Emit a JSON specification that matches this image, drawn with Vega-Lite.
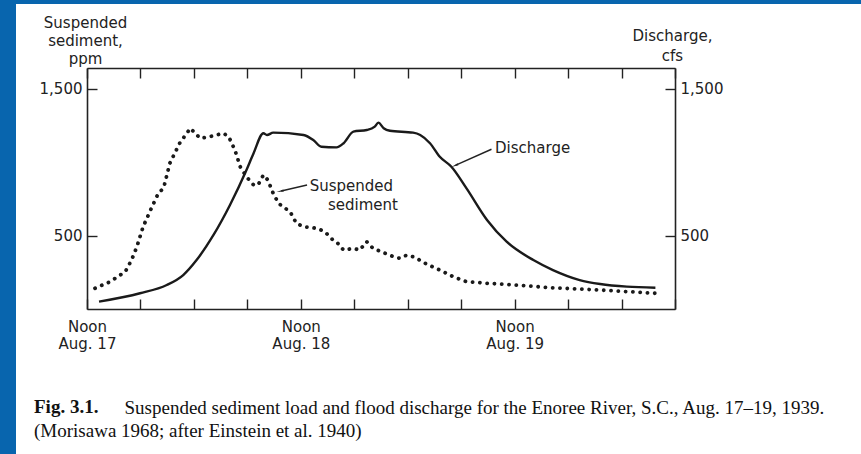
{
  "$schema": "https://vega.github.io/schema/vega-lite/v6.json",
  "background": "white",
  "padding": 0,
  "columns": 3,
  "bounds": "flush",
  "spacing": 0,
  "config": {"view": {"stroke": null}, "axis": {"grid": false}},
  "datasets": {
    "sediment": [
      {"hour": 0.9, "ppm": 141}, {"hour": 2.6, "ppm": 186}, {"hour": 4.3, "ppm": 254}, {"hour": 5.0, "ppm": 333},
      {"hour": 5.6, "ppm": 424}, {"hour": 6.3, "ppm": 560}, {"hour": 7.3, "ppm": 696}, {"hour": 8.0, "ppm": 787},
      {"hour": 8.6, "ppm": 823}, {"hour": 9.3, "ppm": 992}, {"hour": 10.4, "ppm": 1128}, {"hour": 11.6, "ppm": 1230},
      {"hour": 12.7, "ppm": 1162}, {"hour": 13.8, "ppm": 1173}, {"hour": 15.3, "ppm": 1196}, {"hour": 15.9, "ppm": 1173},
      {"hour": 16.6, "ppm": 1082}, {"hour": 17.2, "ppm": 968}, {"hour": 17.9, "ppm": 900}, {"hour": 18.7, "ppm": 844},
      {"hour": 19.2, "ppm": 844}, {"hour": 19.8, "ppm": 912}, {"hour": 20.3, "ppm": 878}, {"hour": 20.9, "ppm": 787},
      {"hour": 21.5, "ppm": 719}, {"hour": 22.0, "ppm": 696}, {"hour": 22.8, "ppm": 662}, {"hour": 23.5, "ppm": 583},
      {"hour": 24.3, "ppm": 560}, {"hour": 25.8, "ppm": 549}, {"hour": 26.7, "ppm": 526}, {"hour": 27.6, "ppm": 470},
      {"hour": 28.0, "ppm": 458}, {"hour": 28.8, "ppm": 401}, {"hour": 29.9, "ppm": 413}, {"hour": 30.6, "ppm": 401},
      {"hour": 31.4, "ppm": 458}, {"hour": 32.1, "ppm": 413}, {"hour": 33.3, "ppm": 383}, {"hour": 34.4, "ppm": 356},
      {"hour": 35.1, "ppm": 345}, {"hour": 35.9, "ppm": 367}, {"hour": 36.8, "ppm": 352}, {"hour": 38.1, "ppm": 306},
      {"hour": 39.6, "ppm": 265}, {"hour": 41.1, "ppm": 220}, {"hour": 42.6, "ppm": 186}, {"hour": 44.9, "ppm": 175},
      {"hour": 48.2, "ppm": 163}, {"hour": 52.0, "ppm": 145}, {"hour": 57.6, "ppm": 129}, {"hour": 63.8, "ppm": 107}
    ],
    "discharge": [
      {"hour": 1.35, "cfs": 50}, {"hour": 5.95, "cfs": 107}, {"hour": 8.95, "cfs": 163}, {"hour": 10.8, "cfs": 231},
      {"hour": 12.3, "cfs": 333}, {"hour": 14.2, "cfs": 504}, {"hour": 16.05, "cfs": 708}, {"hour": 17.9, "cfs": 946},
      {"hour": 18.7, "cfs": 1060}, {"hour": 19.8, "cfs": 1196}, {"hour": 20.2, "cfs": 1184}, {"hour": 20.9, "cfs": 1200},
      {"hour": 24.3, "cfs": 1184}, {"hour": 25.4, "cfs": 1150}, {"hour": 26.3, "cfs": 1104}, {"hour": 28.0, "cfs": 1100},
      {"hour": 28.8, "cfs": 1128}, {"hour": 29.9, "cfs": 1207}, {"hour": 31.4, "cfs": 1218}, {"hour": 32.3, "cfs": 1241},
      {"hour": 32.7, "cfs": 1268}, {"hour": 33.3, "cfs": 1230}, {"hour": 34.0, "cfs": 1213}, {"hour": 36.6, "cfs": 1200},
      {"hour": 37.4, "cfs": 1184}, {"hour": 38.5, "cfs": 1128}, {"hour": 39.6, "cfs": 1036}, {"hour": 40.9, "cfs": 968},
      {"hour": 42.6, "cfs": 821}, {"hour": 44.9, "cfs": 606}, {"hour": 47.1, "cfs": 458}, {"hour": 50.1, "cfs": 333},
      {"hour": 52.3, "cfs": 265}, {"hour": 55.3, "cfs": 197}, {"hour": 57.6, "cfs": 170}, {"hour": 60.6, "cfs": 152},
      {"hour": 63.8, "cfs": 145}
    ],
    "labels": [
      {"hour": 45.8, "value": 1096, "label": "Discharge"},
      {"hour": 25.0, "value": 837, "label": "Suspended"},
      {"hour": 27.05, "value": 708, "label": "sediment"}
    ],
    "arrows": [
      {"name": "discharge", "hour": 45.4, "value": 1087, "hour2": 41.4, "value2": 979},
      {"name": "sediment", "hour": 24.7, "value": 844, "hour2": 21.8, "value2": 803}
    ]
  },
  "concat": [
    {
      "width": 16, "height": 68,
      "data": {"values": [{"k": 1}]},
      "mark": {"type": "point", "opacity": 0, "size": 0},
      "view": {"fill": "#0865ae", "stroke": null}
    },
    {
      "width": 71, "height": 4,
      "data": {"values": [{"k": 1}]},
      "mark": {"type": "point", "opacity": 0, "size": 0},
      "view": {"fill": "#0865ae", "stroke": null}
    },
    {
      "width": 774, "height": 4,
      "data": {"values": [{"k": 1}]},
      "mark": {"type": "point", "opacity": 0, "size": 0},
      "view": {"fill": "#0865ae", "stroke": null}
    },
    {
      "width": 16, "height": 386,
      "data": {"values": [{"k": 1}]},
      "mark": {"type": "point", "opacity": 0, "size": 0},
      "view": {"fill": "#0865ae", "stroke": null}
    },
    {
      "width": 71, "height": 1,
      "data": {"values": [{"k": 1}]},
      "mark": {"type": "point", "opacity": 0, "size": 0},
      "view": {"fill": null, "stroke": null}
    },
    {
      "width": 588, "height": 241,
      "title": {
        "text": "Fig. 3.1.",
        "subtitle": "(Morisawa 1968; after Einstein et al. 1940)",
        "orient": "bottom", "anchor": "start", "frame": "group",
        "dx": -53, "offset": -19, "baseline": "top",
        "font": "Liberation Serif", "fontSize": 19, "fontWeight": "bold", "color": "#111",
        "subtitleFont": "Liberation Serif", "subtitleFontSize": 19, "subtitleColor": "#111",
        "subtitlePadding": 5
      },
      "resolve": {"axis": {"x": "independent", "y": "independent"}},
      "layer": [
        {
          "data": {"name": "sediment"},
          "mark": {"type": "line", "color": "#1a1a1a", "strokeWidth": 3.8, "strokeDash": [0.1, 7.2], "strokeCap": "round"},
          "encoding": {
            "x": {
              "field": "hour", "type": "quantitative",
              "scale": {"domain": [0, 66], "nice": false, "zero": false},
              "axis": {
                "orient": "bottom",
                "values": [0, 6, 12, 18, 24, 30, 36, 42, 48, 54, 60, 66],
                "labelExpr": "datum.value == 0 ? ['Noon', 'Aug. 17'] : datum.value == 24 ? ['Noon', 'Aug. 18'] : datum.value == 48 ? ['Noon', 'Aug. 19'] : ''",
                "labelFont": "DejaVu Sans", "labelFontSize": 15, "labelColor": "#222",
                "labelLineHeight": 17, "labelPadding": 20, "labelFlush": false, "labelOverlap": false,
                "labelAlign": "center", "labelBaseline": "top",
                "tickSize": -10, "tickWidth": 1.4, "tickColor": "#222",
                "domainColor": "#222", "domainWidth": 1.6, "grid": false,
                "title": null
              }
            },
            "y": {
              "field": "ppm", "type": "quantitative",
              "scale": {"domain": [0, 1640], "nice": false},
              "axis": {
                "orient": "left", "values": [500, 1500], "format": ",d",
                "labelFont": "DejaVu Sans", "labelFontSize": 15, "labelColor": "#222", "labelPadding": 15,
                "tickSize": -10, "tickWidth": 1.4, "tickColor": "#222",
                "domainColor": "#222", "domainWidth": 1.6, "grid": false,
                "title": ["Suspended", "sediment,", "ppm"],
                "titleFont": "DejaVu Sans", "titleFontSize": 15, "titleFontWeight": "normal", "titleColor": "#222",
                "titleAngle": 0, "titleAlign": "center", "titleBaseline": "top",
                "titleX": -2, "titleY": -53, "titleLineHeight": 18
              }
            }
          }
        },
        {
          "data": {"name": "discharge"},
          "mark": {"type": "line", "color": "#1a1a1a", "strokeWidth": 2.4, "interpolate": "monotone"},
          "encoding": {
            "x": {
              "field": "hour", "type": "quantitative",
              "scale": {"domain": [0, 66], "nice": false, "zero": false},
              "axis": {
                "orient": "top",
                "values": [0, 6, 12, 18, 24, 30, 36, 42, 48, 54, 60, 66],
                "labels": false,
                "tickSize": -10, "tickWidth": 1.4, "tickColor": "#222",
                "domainColor": "#222", "domainWidth": 1.6, "grid": false,
                "title": "Suspended sediment load and flood discharge for the Enoree River, S.C., Aug. 17–19, 1939.",
                "titleFont": "Liberation Serif", "titleFontSize": 19, "titleFontWeight": "normal", "titleColor": "#111",
                "titleX": 37, "titleY": 345, "titleAlign": "left", "titleBaseline": "alphabetic", "titleAngle": 0
              }
            },
            "y": {
              "field": "cfs", "type": "quantitative",
              "scale": {"domain": [0, 1640], "nice": false},
              "axis": {
                "orient": "right", "values": [500, 1500], "format": ",d",
                "labelFont": "DejaVu Sans", "labelFontSize": 15, "labelColor": "#222", "labelPadding": 15,
                "tickSize": -10, "tickWidth": 1.4, "tickColor": "#222",
                "domainColor": "#222", "domainWidth": 1.6, "grid": false,
                "title": ["Discharge,", "cfs"],
                "titleFont": "DejaVu Sans", "titleFontSize": 15, "titleFontWeight": "normal", "titleColor": "#222",
                "titleAngle": 0, "titleAlign": "center", "titleBaseline": "top",
                "titleX": -3, "titleY": -40, "titleLineHeight": 20
              }
            }
          }
        },
        {
          "data": {"name": "arrows"},
          "mark": {"type": "rule", "color": "#222", "strokeWidth": 1.4},
          "encoding": {
            "x": {"field": "hour", "type": "quantitative", "scale": {"domain": [0, 66], "nice": false, "zero": false}, "axis": null},
            "y": {"field": "value", "type": "quantitative", "scale": {"domain": [0, 1640], "nice": false}, "axis": null},
            "x2": {"field": "hour2"},
            "y2": {"field": "value2"}
          }
        },
        {
          "data": {"name": "arrows"},
          "transform": [{"filter": "datum.name == 'discharge'"}],
          "mark": {"type": "point", "shape": "wedge", "filled": true, "size": 70, "angle": 246.5, "color": "#222", "opacity": 1},
          "encoding": {
            "x": {"field": "hour2", "type": "quantitative", "scale": {"domain": [0, 66], "nice": false, "zero": false}, "axis": null},
            "y": {"field": "value2", "type": "quantitative", "scale": {"domain": [0, 1640], "nice": false}, "axis": null}
          }
        },
        {
          "data": {"name": "arrows"},
          "transform": [{"filter": "datum.name == 'sediment'"}],
          "mark": {"type": "point", "shape": "wedge", "filled": true, "size": 70, "angle": 256.9, "color": "#222", "opacity": 1},
          "encoding": {
            "x": {"field": "hour2", "type": "quantitative", "scale": {"domain": [0, 66], "nice": false, "zero": false}, "axis": null},
            "y": {"field": "value2", "type": "quantitative", "scale": {"domain": [0, 1640], "nice": false}, "axis": null}
          }
        },
        {
          "data": {"name": "labels"},
          "mark": {"type": "text", "align": "left", "baseline": "middle", "font": "DejaVu Sans", "fontSize": 15, "color": "#222"},
          "encoding": {
            "x": {"field": "hour", "type": "quantitative", "scale": {"domain": [0, 66], "nice": false, "zero": false}, "axis": null},
            "y": {"field": "value", "type": "quantitative", "scale": {"domain": [0, 1640], "nice": false}, "axis": null},
            "text": {"field": "label"}
          }
        }
      ]
    }
  ]
}
